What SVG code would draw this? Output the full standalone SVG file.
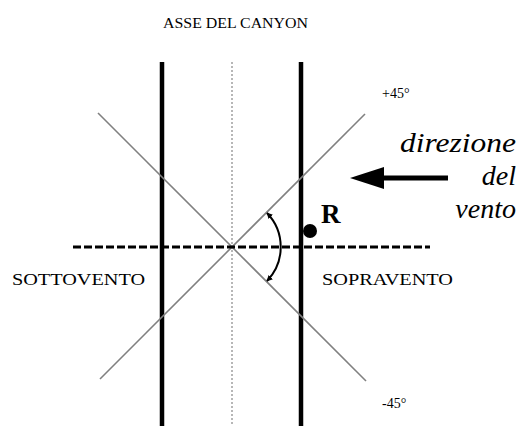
<svg xmlns="http://www.w3.org/2000/svg" width="523" height="426" viewBox="0 0 523 426">
<style>
.lbl{font-family:"Liberation Serif","Times New Roman",serif;fill:#000}
.ital{font-family:"Liberation Serif","Times New Roman",serif;font-style:italic;fill:#000}
.wall{stroke:#000;stroke-width:4.5;fill:none}
.diag{stroke:#808080;stroke-width:1.6;fill:none}
</style>
<defs>
<marker id="ah" viewBox="0 0 10 10" refX="9" refY="5" markerWidth="6" markerHeight="6" orient="auto-start-reverse" markerUnits="userSpaceOnUse">
<path d="M0,0 L10,5 L0,10 z" fill="#000"/>
</marker>
</defs>
<rect width="523" height="426" fill="#fff"/>
<g id="connectors">
<line class="wall" x1="162" y1="62" x2="162" y2="426"/>
<line class="wall" x1="301" y1="62" x2="301" y2="426"/>
<line x1="232" y1="62" x2="232" y2="426" stroke="#888" stroke-width="1.2" stroke-dasharray="2 2"/>
<line class="diag" x1="98" y1="113" x2="366" y2="381"/>
<line class="diag" x1="100" y1="379" x2="365" y2="114"/>
<line x1="73" y1="247" x2="430" y2="247" stroke="#000" stroke-width="3" stroke-dasharray="8 3"/>
<path d="M267,213 A49,49 0 0 1 267,281" fill="none" stroke="#000" stroke-width="2" marker-start="url(#ah)" marker-end="url(#ah)"/>
<line x1="448" y1="178" x2="380" y2="178" stroke="#000" stroke-width="5"/>
<path d="M350,178 L384,167 L384,189 z" fill="#000"/>
</g>
<g id="receptor">
<circle cx="310" cy="231" r="7" fill="#000"/>
<text class="lbl" x="321" y="223" font-size="27" font-weight="bold">R</text>
</g>
<g id="axis-label"><text class="lbl" x="163" y="28" font-size="14" textLength="145" lengthAdjust="spacingAndGlyphs">ASSE DEL CANYON</text></g>
<g id="plus45"><text class="lbl" x="382" y="98" font-size="14">+45°</text></g>
<g id="minus45"><text class="lbl" x="382" y="408" font-size="14">-45°</text></g>
<g id="sottovento"><text class="lbl" x="12" y="285" font-size="17" textLength="133" lengthAdjust="spacingAndGlyphs">SOTTOVENTO</text></g>
<g id="sopravento"><text class="lbl" x="322" y="285" font-size="17" textLength="131" lengthAdjust="spacingAndGlyphs">SOPRAVENTO</text></g>
<g id="wind-label">
<text class="ital" x="516" y="152" font-size="28" text-anchor="end" textLength="116" lengthAdjust="spacingAndGlyphs">direzione</text>
<text class="ital" x="516" y="185" font-size="28" text-anchor="end">del</text>
<text class="ital" x="516" y="218" font-size="28" text-anchor="end">vento</text>
</g>
</svg>
